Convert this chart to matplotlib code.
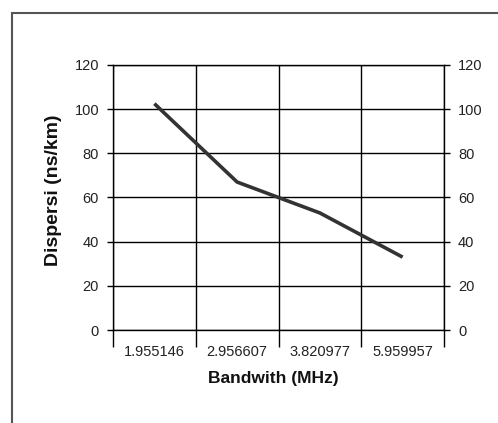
import matplotlib
matplotlib.use("Agg")
import matplotlib.pyplot as plt
from matplotlib.patches import Rectangle

# data
bandwidth = ["1.955146", "2.956607", "3.820977", "5.959957"]
dispersi = [102.5, 67, 53, 33]
y_ticks = [0, 20, 40, 60, 80, 100, 120]

plt.rcParams['font.family'] = ['Liberation Sans', 'DejaVu Sans']

fig = plt.figure(figsize=(4.98, 4.23), dpi=100)
fig.patch.set_facecolor("white")

# outer frame of the chart object (cut off at right/bottom)
frame = Rectangle((12 / 498, -0.2), 1.2, 1 - 13 / 423 + 0.2, transform=fig.transFigure,
                  fill=False, edgecolor="#555555", lw=1.5, clip_on=False)
fig.patches.append(frame)

ax = fig.add_axes([113 / 498, 1 - 330 / 423, 331 / 498, 265 / 423])
x = list(range(len(bandwidth)))
ax.plot(x, dispersi, color="#333333", lw=2.6, solid_capstyle="butt", zorder=3)

ax.set_xlim(-0.5, len(bandwidth) - 0.5)
ax.set_ylim(0, 120)

ax.set_xticks(x)
ax.set_xticklabels(bandwidth)
ax.set_xticks([i - 0.5 for i in range(len(bandwidth) + 1)], minor=True)
ax.tick_params(axis="x", which="major", length=0, pad=11, labelsize=10.5, colors="#222222")
ax.tick_params(axis="x", which="minor", length=12, width=1, direction="out", color="black")

ax.set_yticks(y_ticks)
ax.tick_params(axis="y", which="major", length=4, width=1, direction="out", pad=6,
               labelsize=10.5, labelcolor="#222222", right=True, labelright=True)

ax.grid(True, axis="y", which="major", color="black", lw=1)
ax.grid(True, axis="x", which="minor", color="black", lw=1)
ax.set_axisbelow(True)

for s in ax.spines.values():
    s.set_color("black")
    s.set_linewidth(1)

fig.text(273 / 498, 1 - 378 / 423, "Bandwith (MHz)", ha="center", va="center",
         fontsize=12.5, fontweight="bold", color="#111111")
fig.text(53 / 498, 1 - 190 / 423, "Dispersi (ns/km)", ha="center", va="center",
         rotation=90, fontsize=14, fontweight="bold", color="#111111")

fig.savefig("out.png", dpi=100)
